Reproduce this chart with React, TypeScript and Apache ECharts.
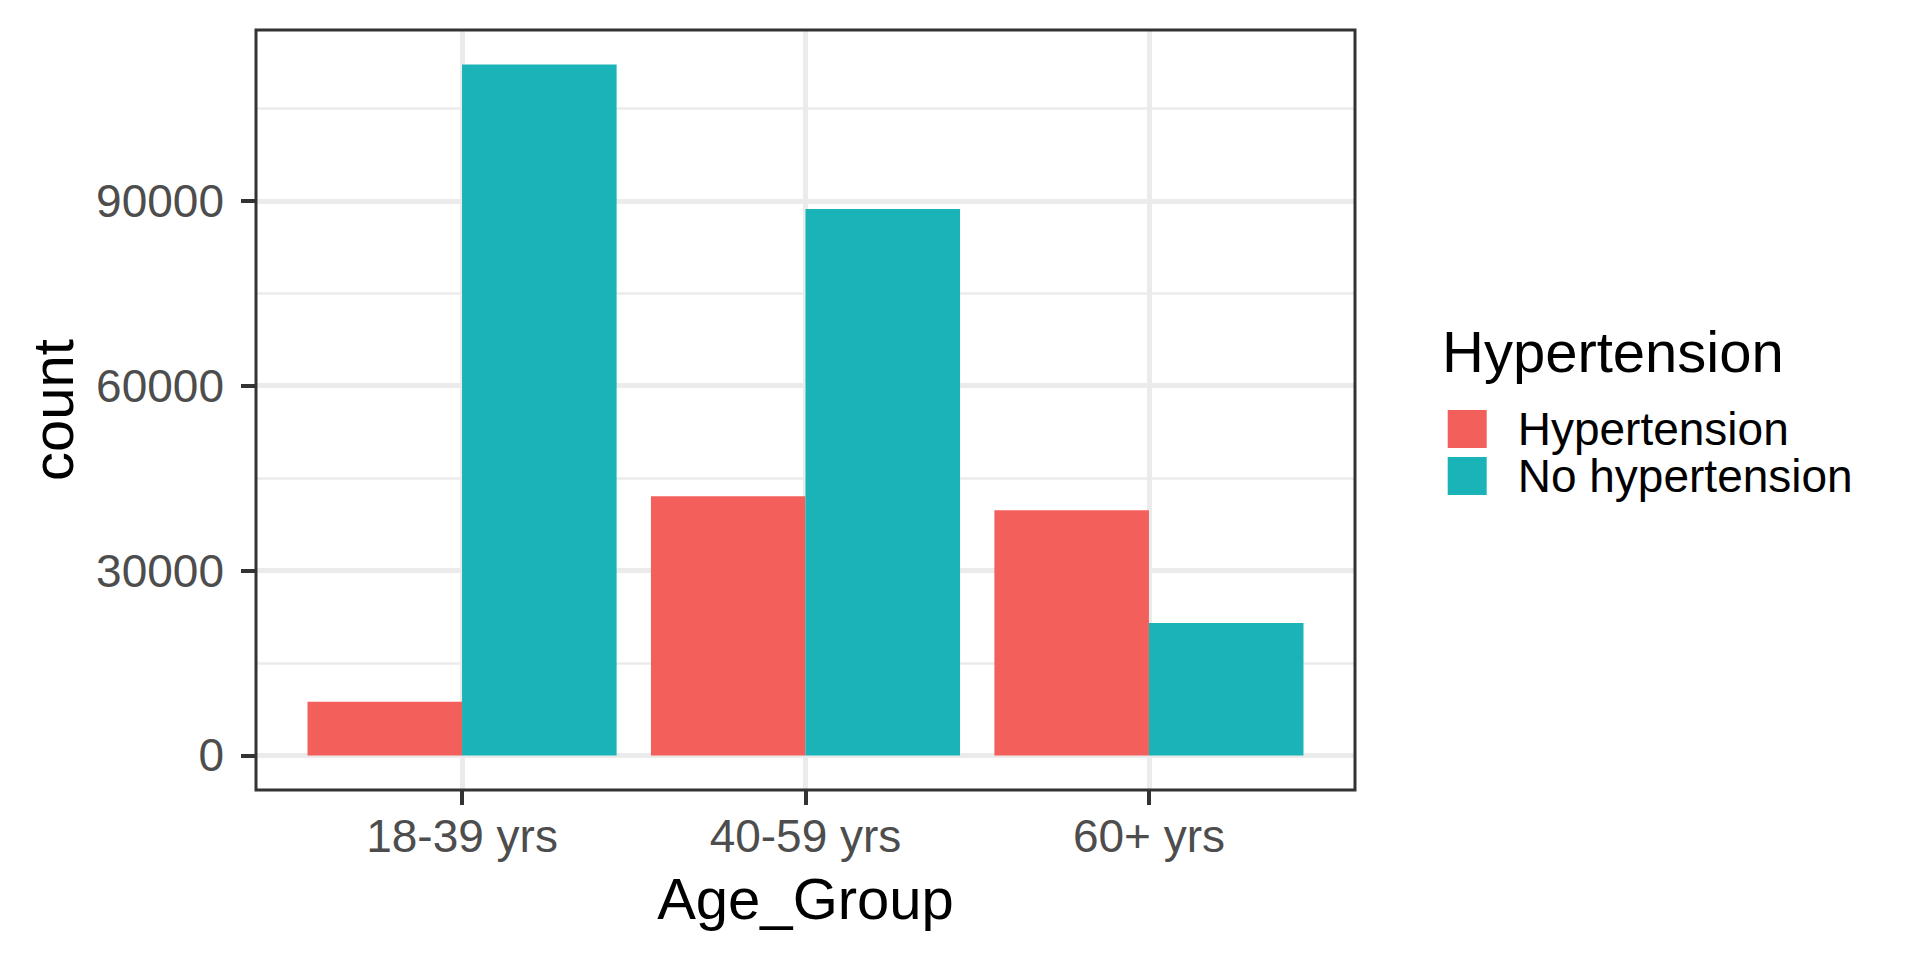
import React, { useEffect, useRef } from "react";
import * as echarts from "echarts";

const categories = ["18-39 yrs", "40-59 yrs", "60+ yrs"];
const seriesNames = ["Hypertension", "No hypertension"];
const hypertension = [8700, 42050, 39800];
const noHypertension = [112100, 88650, 21500];
const yMajorTicks = [0, 30000, 60000, 90000];
const yMinorTicks = [15000, 45000, 75000, 105000];
const colors = ["#F35F5B", "#19B3B8"];

const FONT = '"Liberation Sans", Arial, Helvetica, sans-serif';

export default function App() {
  const ref = useRef<HTMLDivElement>(null);

  useEffect(() => {
    if (!ref.current) return;
    const chart = echarts.init(ref.current, undefined, { renderer: "svg" });

    const maxVal = Math.max(...hypertension, ...noHypertension);
    const yMax = maxVal * 1.05;
    const yMin = -maxVal * 0.05;

    // panel geometry (ggplot-like discrete expansion of 0.6 units each side)
    const pL = 256, pT = 30, pW = 1099, pH = 760;
    const n = categories.length;
    const unit = pW / (n - 1 + 1.2);
    const firstCenter = pL + 0.6 * unit;
    const barLeft = firstCenter - unit / 2;
    const barWidthAll = unit * n;
    const centersWidth = unit * (n - 1);

    const gridColor = "#EBEBEB";

    const option: any = {
      animation: false,
      backgroundColor: "#FFFFFF",
      grid: [
        { left: pL, top: pT, width: pW, height: pH, containLabel: false },
        { left: barLeft, top: pT, width: barWidthAll, height: pH, containLabel: false },
        { left: firstCenter, top: pT, width: centersWidth, height: pH, containLabel: false },
      ],
      xAxis: [
        { gridIndex: 0, type: "value", show: false },
        {
          gridIndex: 1,
          type: "category",
          data: categories,
          boundaryGap: true,
          axisLine: { show: false },
          axisTick: { show: false },
          axisLabel: { show: false },
          splitLine: { show: false },
        },
        {
          gridIndex: 2,
          type: "category",
          data: categories,
          boundaryGap: false,
          position: "bottom",
          axisLine: { show: false },
          axisTick: { show: true, length: 15, lineStyle: { color: "#333333", width: 4 } },
          axisLabel: { show: true, margin: 23, fontSize: 46, fontFamily: FONT, color: "#4D4D4D" },
          splitLine: { show: true, lineStyle: { color: gridColor, width: 5 } },
        },
      ],
      yAxis: [
        {
          gridIndex: 0,
          type: "value",
          min: yMin,
          max: yMax,
          axisLine: { show: false },
          axisTick: { show: true, length: 15, customValues: yMajorTicks, lineStyle: { color: "#333333", width: 4 } },
          axisLabel: {
            show: true,
            customValues: yMajorTicks,
            margin: 32,
            fontSize: 46,
            fontFamily: FONT,
            color: "#4D4D4D",
            formatter: (v: number) => String(Math.round(v)),
          },
          splitLine: { show: true, lineStyle: { color: gridColor, width: 5 } },
        },
        {
          gridIndex: 0,
          type: "value",
          min: yMin,
          max: yMax,
          position: "left",
          axisLine: { show: false },
          axisTick: { show: false, customValues: yMinorTicks },
          axisLabel: { show: false, customValues: yMinorTicks },
          splitLine: { show: true, lineStyle: { color: gridColor, width: 2.5 } },
        },
        { gridIndex: 1, type: "value", min: yMin, max: yMax, show: false, splitLine: { show: false } },
        { gridIndex: 2, type: "value", show: false, splitLine: { show: false } },
      ],
      legend: {
        orient: "vertical",
        left: 1447.7,
        top: 406,
        padding: 0,
        itemWidth: 39,
        itemHeight: 38,
        itemGap: 1,
        icon: "rect",
        selectedMode: false,
        data: seriesNames,
        textStyle: {
          fontSize: 46,
          fontFamily: FONT,
          color: "#000000",
          lineHeight: 38,
          padding: [0, 0, 0, 26],
        },
      },
      series: [
        {
          type: "bar",
          name: seriesNames[0],
          xAxisIndex: 1,
          yAxisIndex: 2,
          data: hypertension,
          barGap: "0%",
          barCategoryGap: "10%",
          itemStyle: { color: colors[0] },
          silent: true,
        },
        {
          type: "bar",
          name: seriesNames[1],
          xAxisIndex: 1,
          yAxisIndex: 2,
          data: noHypertension,
          barGap: "0%",
          barCategoryGap: "10%",
          itemStyle: { color: colors[1] },
          silent: true,
        },
      ],
      graphic: [
        {
          type: "rect",
          z: 100,
          shape: { x: pL, y: pT, width: pW, height: pH },
          style: { fill: "none", stroke: "#333333", lineWidth: 3 },
          silent: true,
        },
        {
          type: "text",
          x: pL + pW / 2,
          y: 898,
          style: {
            text: "Age_Group",
            fontSize: 58,
            fontFamily: FONT,
            fill: "#000000",
            align: "center",
            verticalAlign: "middle",
          },
        },
        {
          type: "text",
          x: 52,
          y: pT + pH / 2,
          rotation: Math.PI / 2,
          style: {
            text: "count",
            fontSize: 58,
            fontFamily: FONT,
            fill: "#000000",
            align: "center",
            verticalAlign: "middle",
          },
        },
        {
          type: "text",
          x: 1442,
          y: 351.6,
          style: {
            text: "Hypertension",
            fontSize: 58,
            fontFamily: FONT,
            fill: "#000000",
            align: "left",
            verticalAlign: "middle",
          },
        },
      ],
    };

    chart.setOption(option);
    return () => chart.dispose();
  }, []);

  return (
    <div
      ref={ref}
      style={{ position: "fixed", left: 0, top: 0, width: 1920, height: 960, background: "#fff" }}
    />
  );
}
